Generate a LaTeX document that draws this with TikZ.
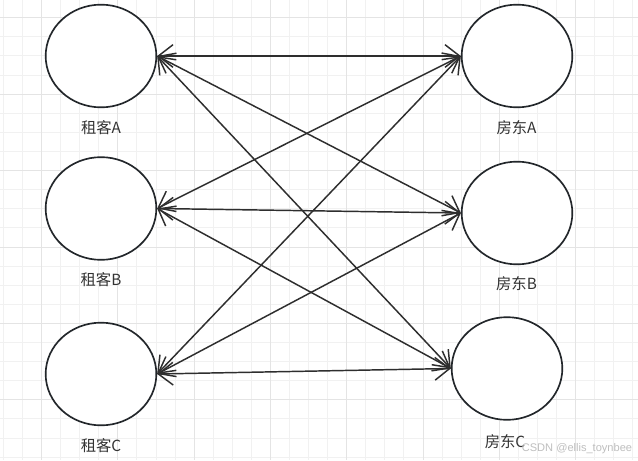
\documentclass[tikz,border=0pt]{standalone}
\usepackage{fontspec}
\newfontfamily\cjk{Noto Sans CJK SC}
\newfontfamily\wmfont{Liberation Sans}
\usetikzlibrary{shapes.geometric,arrows.meta}
\definecolor{gminor}{HTML}{F1F1F1}
\definecolor{gmajor}{HTML}{E4E4E4}
\definecolor{ink}{HTML}{23272B}
\definecolor{lineink}{HTML}{2E2E2E}
\definecolor{txt}{HTML}{333333}
\tikzset{
  circ/.style={ellipse, draw=ink, fill=white, line width=1.25pt, minimum width=83pt, minimum height=77pt, inner sep=0pt},
  lbl/.style={text=txt, font=\cjk\fontsize{11.5}{13}\selectfont, inner sep=0pt},
  conn/.style={draw=lineink, line width=1.1pt, <->, >={Straight Barb[length=11pt,width=17pt]}},
  wm/.style={text=black!25, font=\wmfont\fontsize{8.3}{10}\selectfont, inner sep=0pt},
  gmin/.style={draw=gminor, line width=0.75pt},
  gmaj/.style={draw=gmajor, line width=0.75pt}
}
\begin{document}
\begin{tikzpicture}[x=0.75pt,y=-0.75pt]
\useasboundingbox (0,0) rectangle (638,460);
\fill[white] (0,0) rectangle (638,460);
% grid
\foreach \k in {0,...,33} {
  \pgfmathsetmacro\xx{3.5+19.07*\k}
  \draw[gmin] (\xx,0) -- (\xx,460);
}
\foreach \k in {0,...,23} {
  \pgfmathsetmacro\yy{17.8+19.1*\k}
  \draw[gmin] (0,\yy) -- (638,\yy);
}
\foreach \k in {2,6,...,34} {
  \pgfmathsetmacro\xx{3.5+19.07*\k}
  \draw[gmaj] (\xx,0) -- (\xx,460);
}
\foreach \k in {0,4,...,23} {
  \pgfmathsetmacro\yy{17.8+19.1*\k}
  \draw[gmaj] (0,\yy) -- (638,\yy);
}
% nodes
\node[circ] (tA) at (101,56) {};
\node[circ] (tB) at (101,208.5) {};
\node[circ] (tC) at (101,374) {};
\node[circ] (lA) at (517,56) {};
\node[circ] (lB) at (517,213) {};
\node[circ] (lC) at (507,368.5) {};
% labels
\node[lbl] (tAl) at (101,128) {租客A};
\node[lbl] (tBl) at (101,280) {租客B};
\node[lbl] (tCl) at (101,446) {租客C};
\node[lbl] (lAl) at (516.5,128) {房东A};
\node[lbl] (lBl) at (516.5,284) {房东B};
\node[lbl] (lCl) at (505,442) {房东C};
% connectors
\foreach \a in {tA,tB,tC} {
  \foreach \b in {lA,lB,lC} {
    \draw[conn] (\a.east) -- (\b.west);
  }
}
% watermark
\node[wm] (wm) at (577,448.5) {CSDN @ellis\_toynbee};
\end{tikzpicture}
\end{document}
